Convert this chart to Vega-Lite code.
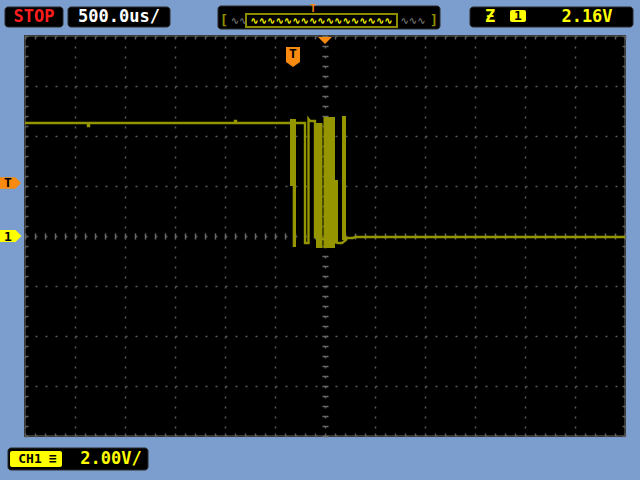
{
  "$schema": "https://vega.github.io/schema/vega-lite/v6.json",
  "width": 600,
  "height": 400,
  "autosize": {"type": "none"},
  "padding": {"left": 25, "top": 36, "right": 15, "bottom": 44},
  "background": "#7b9ecf",
  "config": {
    "view": {"fill": "#000000", "stroke": "#3a3a3a", "strokeWidth": 2},
    "axis": {"domain": false, "labels": false, "grid": false, "tickColor": "#5e5e5e", "tickWidth": 1.5},
    "text": {"font": "DejaVu Sans Mono", "fontWeight": "bold", "baseline": "middle", "align": "center"}
  },
  "resolve": {"axis": {"x": "independent", "y": "independent"}},
  "layer": [
    {
      "data": {"values": [
        {"i": 0, "t": -3000, "v": 4.52},
        {"i": 1, "t": -2370, "v": 4.52},
        {"i": 2, "t": -2370, "v": 4.4},
        {"i": 3, "t": -2360, "v": 4.4},
        {"i": 4, "t": -2360, "v": 4.52},
        {"i": 5, "t": -900, "v": 4.52},
        {"i": 6, "t": -900, "v": 4.6},
        {"i": 7, "t": -890, "v": 4.6},
        {"i": 8, "t": -890, "v": 4.52},
        {"i": 9, "t": -350, "v": 4.52},
        {"i": 10, "t": -290, "v": 4.52},
        {"i": 11, "t": -200, "v": 4.52},
        {"i": 12, "t": -200, "v": -0.28},
        {"i": 13, "t": -165, "v": -0.28},
        {"i": 14, "t": -165, "v": 4.68},
        {"i": 15, "t": -150, "v": 4.6},
        {"i": 16, "t": -100, "v": 4.6},
        {"i": 17, "t": -100, "v": -0.04},
        {"i": 18, "t": -90, "v": -0.04},
        {"i": 19, "t": 130, "v": -0.28},
        {"i": 20, "t": 170, "v": -0.28},
        {"i": 21, "t": 210, "v": -0.16},
        {"i": 22, "t": 220, "v": -0.08},
        {"i": 23, "t": 280, "v": -0.08},
        {"i": 24, "t": 300, "v": -0.04},
        {"i": 25, "t": 3000, "v": -0.04}
      ]},
      "mark": {"type": "line", "color": "#959500", "strokeWidth": 2.4, "interpolate": "linear"},
      "encoding": {
        "x": {"field": "t", "type": "quantitative", "title": null,
          "scale": {"domain": [-3000, 3000], "nice": false, "zero": false},
          "axis": {"orient": "bottom", "grid": true, "gridColor": "#5a5a5a", "gridDash": [2, 8], "gridWidth": 1.5,
            "gridOpacity": {"condition": {"test": "abs(datum.value) % 500 == 0", "value": 1}, "value": 0},
            "tickSize": -3,
            "values": [-3000,-2900,-2800,-2700,-2600,-2500,-2400,-2300,-2200,-2100,-2000,-1900,-1800,-1700,-1600,-1500,-1400,-1300,-1200,-1100,-1000,-900,-800,-700,-600,-500,-400,-300,-200,-100,0,100,200,300,400,500,600,700,800,900,1000,1100,1200,1300,1400,1500,1600,1700,1800,1900,2000,2100,2200,2300,2400,2500,2600,2700,2800,2900,3000]}},
        "y": {"field": "v", "type": "quantitative", "title": null,
          "scale": {"domain": [-8, 8], "nice": false, "zero": false},
          "axis": {"orient": "left", "grid": true, "gridColor": "#5a5a5a", "gridDash": [2, 8], "gridWidth": 1.5,
            "gridOpacity": {"condition": {"test": "abs(datum.value) % 2 == 0", "value": 1}, "value": 0},
            "tickSize": -3,
            "values": [-8,-7.6,-7.2,-6.8,-6.4,-6,-5.6,-5.2,-4.8,-4.4,-4,-3.6,-3.2,-2.8,-2.4,-2,-1.6,-1.2,-0.8,-0.4,0,0.4,0.8,1.2,1.6,2,2.4,2.8,3.2,3.6,4,4.4,4.8,5.2,5.6,6,6.4,6.8,7.2,7.6,8]}},
        "order": {"field": "i", "type": "quantitative"}
      }
    },
    {
      "data": {"values": [
        {"t1": -350, "t2": -290, "v1": 2.0, "v2": 4.68},
        {"t1": -323, "t2": -290, "v1": -0.44, "v2": 2.0},
        {"t1": -90, "t2": -25, "v1": -0.48, "v2": 4.52},
        {"t1": -15, "t2": 100, "v1": -0.48, "v2": 4.76},
        {"t1": 100, "t2": 130, "v1": -0.28, "v2": 2.24},
        {"t1": 170, "t2": 210, "v1": -0.16, "v2": 4.8}
      ]},
      "mark": {"type": "rect", "color": "#959500"},
      "encoding": {
        "x": {"field": "t1", "type": "quantitative", "title": null,
          "scale": {"domain": [-3000, 3000], "nice": false, "zero": false},
          "axis": {"orient": "top", "tickSize": -3,
            "values": [-3000,-2900,-2800,-2700,-2600,-2500,-2400,-2300,-2200,-2100,-2000,-1900,-1800,-1700,-1600,-1500,-1400,-1300,-1200,-1100,-1000,-900,-800,-700,-600,-500,-400,-300,-200,-100,0,100,200,300,400,500,600,700,800,900,1000,1100,1200,1300,1400,1500,1600,1700,1800,1900,2000,2100,2200,2300,2400,2500,2600,2700,2800,2900,3000]}},
        "x2": {"field": "t2"},
        "y": {"field": "v1", "type": "quantitative", "title": null,
          "scale": {"domain": [-8, 8], "nice": false, "zero": false},
          "axis": {"orient": "right", "tickSize": -3,
            "values": [-8,-7.6,-7.2,-6.8,-6.4,-6,-5.6,-5.2,-4.8,-4.4,-4,-3.6,-3.2,-2.8,-2.4,-2,-1.6,-1.2,-0.8,-0.4,0,0.4,0.8,1.2,1.6,2,2.4,2.8,3.2,3.6,4,4.4,4.8,5.2,5.6,6,6.4,6.8,7.2,7.6,8]}},
        "y2": {"field": "v2"}
      }
    },
    {
      "data": {"values": [{"name": "trigger level", "t": -3145, "v": 2.12}]},
      "mark": {"type": "point", "filled": true, "opacity": 1, "color": "#f88a10", "size": 440,
        "shape": "M-1,-0.55L0.45,-0.55L1,0L0.45,0.55L-1,0.55Z"},
      "encoding": {
        "x": {"field": "t", "type": "quantitative", "title": null,
          "scale": {"domain": [-3000, 3000], "nice": false, "zero": false},
          "axis": {"orient": "bottom", "offset": -203, "tickSize": 6, "tickColor": "#6a6a6a",
            "values": [-3000,-2900,-2800,-2700,-2600,-2500,-2400,-2300,-2200,-2100,-2000,-1900,-1800,-1700,-1600,-1500,-1400,-1300,-1200,-1100,-1000,-900,-800,-700,-600,-500,-400,-300,-200,-100,0,100,200,300,400,500,600,700,800,900,1000,1100,1200,1300,1400,1500,1600,1700,1800,1900,2000,2100,2200,2300,2400,2500,2600,2700,2800,2900,3000]}},
        "y": {"field": "v", "type": "quantitative", "title": null,
          "scale": {"domain": [-8, 8], "nice": false, "zero": false},
          "axis": {"orient": "left", "offset": -303, "tickSize": 6, "tickColor": "#6a6a6a",
            "values": [-8,-7.6,-7.2,-6.8,-6.4,-6,-5.6,-5.2,-4.8,-4.4,-4,-3.6,-3.2,-2.8,-2.4,-2,-1.6,-1.2,-0.8,-0.4,0,0.4,0.8,1.2,1.6,2,2.4,2.8,3.2,3.6,4,4.4,4.8,5.2,5.6,6,6.4,6.8,7.2,7.6,8]}}
      }
    },
    {
      "data": {"values": [{"name": "channel 1 ground", "t": -3145, "v": 0}]},
      "mark": {"type": "point", "filled": true, "opacity": 1, "color": "#ffff00", "size": 484,
        "shape": "M-1,-0.55L0.45,-0.55L1,0L0.45,0.55L-1,0.55Z"},
      "encoding": {
        "x": {"field": "t", "type": "quantitative", "scale": {"domain": [-3000, 3000], "nice": false, "zero": false}, "axis": null},
        "y": {"field": "v", "type": "quantitative", "scale": {"domain": [-8, 8], "nice": false, "zero": false}, "axis": null}
      }
    },
    {
      "data": {"values": [{"name": "trigger time", "t": -320, "v": 7.16}]},
      "mark": {"type": "point", "filled": true, "opacity": 1, "color": "#f88a10", "size": 400,
        "shape": "M-0.7,-1L0.7,-1L0.7,0.5L0,1L-0.7,0.5Z"},
      "encoding": {
        "x": {"field": "t", "type": "quantitative", "scale": {"domain": [-3000, 3000], "nice": false, "zero": false}, "axis": null},
        "y": {"field": "v", "type": "quantitative", "scale": {"domain": [-8, 8], "nice": false, "zero": false}, "axis": null}
      }
    },
    {
      "data": {"values": [{"name": "trigger position", "t": 0, "v": 7.82}]},
      "mark": {"type": "point", "filled": true, "opacity": 1, "color": "#f88a10", "size": 196,
        "shape": "M-1,-0.5L1,-0.5L0,0.5Z"},
      "encoding": {
        "x": {"field": "t", "type": "quantitative", "scale": {"domain": [-3000, 3000], "nice": false, "zero": false}, "axis": null},
        "y": {"field": "v", "type": "quantitative", "scale": {"domain": [-8, 8], "nice": false, "zero": false}, "axis": null}
      }
    },
    {
      "data": {"values": [
        {"box": "run state", "t1": -3200, "t2": -2620, "v1": 8.36, "v2": 9.16},
        {"box": "timebase", "t1": -2570, "t2": -1550, "v1": 8.36, "v2": 9.16},
        {"box": "overview", "t1": -1070, "t2": 1150, "v1": 8.28, "v2": 9.2},
        {"box": "trigger", "t1": 1450, "t2": 3080, "v1": 8.36, "v2": 9.16},
        {"box": "channel", "t1": -3170, "t2": -1770, "v1": -9.36, "v2": -8.48}
      ]},
      "mark": {"type": "rect", "color": "#000000", "cornerRadius": 3, "stroke": "#2a2a2a", "strokeWidth": 1},
      "encoding": {
        "x": {"field": "t1", "type": "quantitative", "scale": {"domain": [-3000, 3000], "nice": false, "zero": false}, "axis": null},
        "x2": {"field": "t2"},
        "y": {"field": "v1", "type": "quantitative", "scale": {"domain": [-8, 8], "nice": false, "zero": false}, "axis": null},
        "y2": {"field": "v2"}
      }
    },
    {
      "data": {"values": [
        {"box": "trigger source", "t1": 1850, "t2": 2010, "v1": 8.56, "v2": 9.04},
        {"box": "channel label", "t1": -3150, "t2": -2630, "v1": -9.24, "v2": -8.6}
      ]},
      "mark": {"type": "rect", "color": "#ffff00", "cornerRadius": 2},
      "encoding": {
        "x": {"field": "t1", "type": "quantitative", "scale": {"domain": [-3000, 3000], "nice": false, "zero": false}, "axis": null},
        "x2": {"field": "t2"},
        "y": {"field": "v1", "type": "quantitative", "scale": {"domain": [-8, 8], "nice": false, "zero": false}, "axis": null},
        "y2": {"field": "v2"}
      }
    },
    {
      "data": {"values": [{"box": "overview window", "t1": -790, "t2": 720, "v1": 8.36, "v2": 8.88}]},
      "mark": {"type": "rect", "fill": null, "fillOpacity": 0, "stroke": "#8c8c00", "strokeWidth": 2},
      "encoding": {
        "x": {"field": "t1", "type": "quantitative", "scale": {"domain": [-3000, 3000], "nice": false, "zero": false}, "axis": null},
        "x2": {"field": "t2"},
        "y": {"field": "v1", "type": "quantitative", "scale": {"domain": [-8, 8], "nice": false, "zero": false}, "axis": null},
        "y2": {"field": "v2"}
      }
    },
    {
      "data": {"values": [{"label": "STOP", "t": -2910, "v": 8.76}]},
      "mark": {"type": "text", "color": "#ff1e1e", "fontSize": 17},
      "encoding": {
        "x": {"field": "t", "type": "quantitative", "scale": {"domain": [-3000, 3000], "nice": false, "zero": false}, "axis": null},
        "y": {"field": "v", "type": "quantitative", "scale": {"domain": [-8, 8], "nice": false, "zero": false}, "axis": null},
        "text": {"field": "label", "type": "nominal"}
      }
    },
    {
      "data": {"values": [{"label": "500.0us/", "t": -2060, "v": 8.76}]},
      "mark": {"type": "text", "color": "#ffffff", "fontSize": 17},
      "encoding": {
        "x": {"field": "t", "type": "quantitative", "scale": {"domain": [-3000, 3000], "nice": false, "zero": false}, "axis": null},
        "y": {"field": "v", "type": "quantitative", "scale": {"domain": [-8, 8], "nice": false, "zero": false}, "axis": null},
        "text": {"field": "label", "type": "nominal"}
      }
    },
    {
      "data": {"values": [
        {"label": "Ƶ", "t": 1650, "v": 8.76},
        {"label": "2.16V", "t": 2620, "v": 8.76},
        {"label": "2.00V/", "t": -2140, "v": -8.92}
      ]},
      "mark": {"type": "text", "color": "#ffff00", "fontSize": 17},
      "encoding": {
        "x": {"field": "t", "type": "quantitative", "scale": {"domain": [-3000, 3000], "nice": false, "zero": false}, "axis": null},
        "y": {"field": "v", "type": "quantitative", "scale": {"domain": [-8, 8], "nice": false, "zero": false}, "axis": null},
        "text": {"field": "label", "type": "nominal"}
      }
    },
    {
      "data": {"values": [{"label": "∿∿∿∿∿∿∿∿∿∿∿∿∿∿∿∿∿", "t": -35, "v": 8.6}]},
      "mark": {"type": "text", "color": "#ffff00", "fontSize": 10, "font": "DejaVu Sans", "fontWeight": "bold"},
      "encoding": {
        "x": {"field": "t", "type": "quantitative", "scale": {"domain": [-3000, 3000], "nice": false, "zero": false}, "axis": null},
        "y": {"field": "v", "type": "quantitative", "scale": {"domain": [-8, 8], "nice": false, "zero": false}, "axis": null},
        "text": {"field": "label", "type": "nominal"}
      }
    },
    {
      "data": {"values": [
        {"label": "∿∿", "t": -860, "v": 8.6},
        {"label": "∿∿∿", "t": 880, "v": 8.6}
      ]},
      "mark": {"type": "text", "color": "#8a8a8a", "fontSize": 10, "font": "DejaVu Sans", "fontWeight": "normal"},
      "encoding": {
        "x": {"field": "t", "type": "quantitative", "scale": {"domain": [-3000, 3000], "nice": false, "zero": false}, "axis": null},
        "y": {"field": "v", "type": "quantitative", "scale": {"domain": [-8, 8], "nice": false, "zero": false}, "axis": null},
        "text": {"field": "label", "type": "nominal"}
      }
    },
    {
      "data": {"values": [
        {"label": "[", "t": -1010, "v": 8.62},
        {"label": "]", "t": 1090, "v": 8.62}
      ]},
      "mark": {"type": "text", "color": "#8c8c00", "fontSize": 14},
      "encoding": {
        "x": {"field": "t", "type": "quantitative", "scale": {"domain": [-3000, 3000], "nice": false, "zero": false}, "axis": null},
        "y": {"field": "v", "type": "quantitative", "scale": {"domain": [-8, 8], "nice": false, "zero": false}, "axis": null},
        "text": {"field": "label", "type": "nominal"}
      }
    },
    {
      "data": {"values": [{"label": "T", "t": -120, "v": 9.1}]},
      "mark": {"type": "text", "color": "#f88a10", "fontSize": 10},
      "encoding": {
        "x": {"field": "t", "type": "quantitative", "scale": {"domain": [-3000, 3000], "nice": false, "zero": false}, "axis": null},
        "y": {"field": "v", "type": "quantitative", "scale": {"domain": [-8, 8], "nice": false, "zero": false}, "axis": null},
        "text": {"field": "label", "type": "nominal"}
      }
    },
    {
      "data": {"values": [
        {"label": "1", "t": 1930, "v": 8.8},
        {"label": "CH1", "t": -2950, "v": -8.92},
        {"label": "≡", "t": -2720, "v": -8.92},
        {"label": "T", "t": -3170, "v": 2.14},
        {"label": "1", "t": -3170, "v": -0.02},
        {"label": "T", "t": -320, "v": 7.3}
      ]},
      "mark": {"type": "text", "color": "#000000", "fontSize": 13},
      "encoding": {
        "x": {"field": "t", "type": "quantitative", "scale": {"domain": [-3000, 3000], "nice": false, "zero": false}, "axis": null},
        "y": {"field": "v", "type": "quantitative", "scale": {"domain": [-8, 8], "nice": false, "zero": false}, "axis": null},
        "text": {"field": "label", "type": "nominal"}
      }
    }
  ]
}
